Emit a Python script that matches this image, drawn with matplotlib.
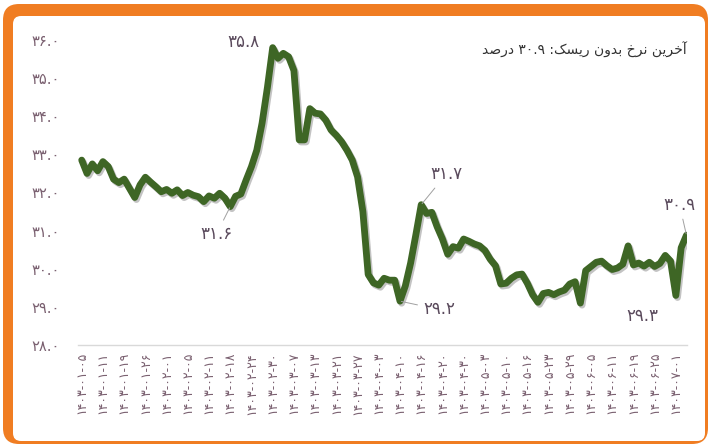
import matplotlib
matplotlib.use("Agg")
import matplotlib.pyplot as plt
from matplotlib.patches import FancyBboxPatch
import matplotlib.patheffects as pe

# ---------------- data ----------------
values = [
    32.85, 32.50, 32.75, 32.57, 32.81, 32.68, 32.35, 32.26, 32.35, 32.11,
    31.87, 32.20, 32.40, 32.27, 32.15, 32.02, 32.08, 31.98, 32.07, 31.92,
    32.00, 31.93, 31.89, 31.76, 31.91, 31.85, 31.98, 31.85, 31.63, 31.90,
    31.96, 32.33, 32.68, 33.11, 33.82, 34.75, 35.80, 35.52, 35.65, 35.56,
    35.20, 33.38, 33.38, 34.20, 34.08, 34.06, 33.90, 33.64, 33.50, 33.33,
    33.11, 32.85, 32.41, 31.50, 29.85, 29.63, 29.57, 29.75, 29.70, 29.70,
    29.15, 29.55, 30.15, 30.90, 31.68, 31.45, 31.48, 31.10, 30.78, 30.38,
    30.58, 30.54, 30.78, 30.72, 30.65, 30.60, 30.48, 30.25, 30.08, 29.60,
    29.62, 29.75, 29.84, 29.86, 29.62, 29.32, 29.12, 29.35, 29.38, 29.32,
    29.39, 29.44, 29.60, 29.66, 29.10, 29.95, 30.06, 30.17, 30.20, 30.08,
    29.98, 30.02, 30.12, 30.60, 30.10, 30.15, 30.07, 30.17, 30.06, 30.14,
    30.35, 30.20, 29.30, 30.55, 30.88,
]

date_labels = [
    "۱۴۰۳-۰۱-۰۵", "۱۴۰۳-۰۱-۱۱", "۱۴۰۳-۰۱-۱۹", "۱۴۰۳-۰۱-۲۶", "۱۴۰۳-۰۲-۰۱",
    "۱۴۰۳-۰۲-۰۵", "۱۴۰۳-۰۲-۱۱", "۱۴۰۳-۰۲-۱۸", "۱۴۰۳-۰۲-۲۴", "۱۴۰۳-۰۲-۳۰",
    "۱۴۰۳-۰۳-۰۷", "۱۴۰۳-۰۳-۱۳", "۱۴۰۳-۰۳-۲۱", "۱۴۰۳-۰۳-۲۷", "۱۴۰۳-۰۴-۰۳",
    "۱۴۰۳-۰۴-۱۰", "۱۴۰۳-۰۴-۱۶", "۱۴۰۳-۰۴-۲۰", "۱۴۰۳-۰۴-۳۰", "۱۴۰۳-۰۵-۰۳",
    "۱۴۰۳-۰۵-۱۰", "۱۴۰۳-۰۵-۱۶", "۱۴۰۳-۰۵-۲۳", "۱۴۰۳-۰۵-۲۹", "۱۴۰۳-۰۶-۰۵",
    "۱۴۰۳-۰۶-۱۱", "۱۴۰۳-۰۶-۱۹", "۱۴۰۳-۰۶-۲۵", "۱۴۰۳-۰۷-۰۱",
]
label_step = 4

y_ticks = [28, 29, 30, 31, 32, 33, 34, 35, 36]

title_text = "آخرین نرخ بدون ریسک: ۳۰.۹ درصد"

annot_index = [36, 28, 64, 60, 112, 114]
annot_text = ["۳۵.۸", "۳۱.۶", "۳۱.۷", "۲۹.۲", "۲۹.۳", "۳۰.۹"]

# ---------------- helpers ----------------
FA_DIGITS = str.maketrans("0123456789", "۰۱۲۳۴۵۶۷۸۹")


def fa(s):
    return s.translate(FA_DIGITS)


# presentation forms: isolated, final, initial, medial
FORMS = {
    "آ": ("\uFE81", "\uFE82", None, None),
    "خ": ("\uFEA5", "\uFEA6", "\uFEA7", "\uFEA8"),
    "ر": ("\uFEAD", "\uFEAE", None, None),
    "ی": ("\uFBFC", "\uFBFD", "\uFBFE", "\uFBFF"),
    "ن": ("\uFEE5", "\uFEE6", "\uFEE7", "\uFEE8"),
    "ب": ("\uFE8F", "\uFE90", "\uFE91", "\uFE92"),
    "د": ("\uFEA9", "\uFEAA", None, None),
    "و": ("\uFEED", "\uFEEE", None, None),
    "س": ("\uFEB1", "\uFEB2", "\uFEB3", "\uFEB4"),
    "ک": ("\uFB8E", "\uFB8F", "\uFB90", "\uFB91"),
    "ص": ("\uFEB9", "\uFEBA", "\uFEBB", "\uFEBC"),
}


def shape_word(w):
    out = []
    n = len(w)
    for k, ch in enumerate(w):
        if ch not in FORMS:
            out.append(ch)
            continue
        f = FORMS[ch]
        prev = w[k - 1] if k > 0 else None
        nxt = w[k + 1] if k < n - 1 else None
        join_prev = prev in FORMS and FORMS[prev][2] is not None
        join_next = nxt in FORMS and f[2] is not None
        if join_prev and join_next:
            out.append(f[3])
        elif join_prev:
            out.append(f[1])
        elif join_next:
            out.append(f[2])
        else:
            out.append(f[0])
    return "".join(out)


def visual_rtl(text):
    tokens = text.split(" ")
    vis = []
    for t in tokens:
        if any(c in FORMS for c in t):
            vis.append(shape_word(t)[::-1])
        else:
            vis.append(t)
    return " ".join(vis[::-1])


# ---------------- figure ----------------
W, H = 710, 445
fig = plt.figure(figsize=(W / 100, H / 100), dpi=100)
fig.patch.set_facecolor("white")

orange = "#F07D22"
fig.patches.append(FancyBboxPatch((0.03, 0.01), 7.05, 4.40,
                                  boxstyle="round,pad=0,rounding_size=0.16",
                                  fc=orange, ec="none",
                                  transform=fig.dpi_scale_trans, zorder=-2))
fig.patches.append(FancyBboxPatch((0.13, 0.04), 6.92, 4.25,
                                  boxstyle="round,pad=0,rounding_size=0.08",
                                  fc="white", ec="none",
                                  transform=fig.dpi_scale_trans, zorder=-1))

ax = fig.add_axes([78 / W, 1 - 345 / H, (687 - 78) / W, (345 - 40) / H])
ax.set_zorder(2)
ax.patch.set_visible(False)

x = list(range(len(values)))
ax.plot(x, values, color="#3E6625", lw=4.9, solid_joinstyle="round",
        solid_capstyle="round",
        path_effects=[pe.SimpleLineShadow(offset=(1.2, -1.5), shadow_color="#555555", alpha=0.35),
                      pe.Normal()], zorder=3)

ax.set_xlim(-0.7, 114.1)
ax.set_ylim(28, 36)

for s in ("top", "left", "right"):
    ax.spines[s].set_visible(False)
ax.spines["bottom"].set_color("#D9D9D9")
ax.spines["bottom"].set_linewidth(1.0)

tick_color = "#7A6070"
ax.set_yticks(y_ticks)
ax.set_yticklabels([fa(f"{v:.1f}") for v in y_ticks], fontsize=10.5,
                   color=tick_color, family="DejaVu Sans")
ax.tick_params(axis="y", length=0, pad=13)

ax.set_xticks(list(range(0, label_step * len(date_labels), label_step)))
ax.set_xticklabels(date_labels, rotation=90, fontsize=9, color=tick_color,
                   family="DejaVu Sans")
ax.tick_params(axis="x", length=0, pad=5)

# annotations
offsets = [(-21, 4), (-10, -20), (18, 22), (28, -6), (-24, -15), (-5, 22)]
leaders = [False, True, True, True, False, True]
for idx, txt, off, lead in zip(annot_index, annot_text, offsets, leaders):
    kw = {}
    if lead:
        kw["arrowprops"] = dict(arrowstyle="-", color="#A0A0A0", lw=0.7,
                                shrinkA=2, shrinkB=1)
    ax.annotate(txt, xy=(idx, values[idx]), xytext=off, textcoords="offset points",
                ha="center", va="center", fontsize=12, color="#5A4A5C",
                family="DejaVu Sans", zorder=4, **kw)

fig.text(687 / W, 1 - 50 / H, visual_rtl(title_text), ha="right", va="center",
         fontsize=10, color="#333333", family="DejaVu Sans")

fig.savefig("out.png", dpi=100, facecolor="white")
